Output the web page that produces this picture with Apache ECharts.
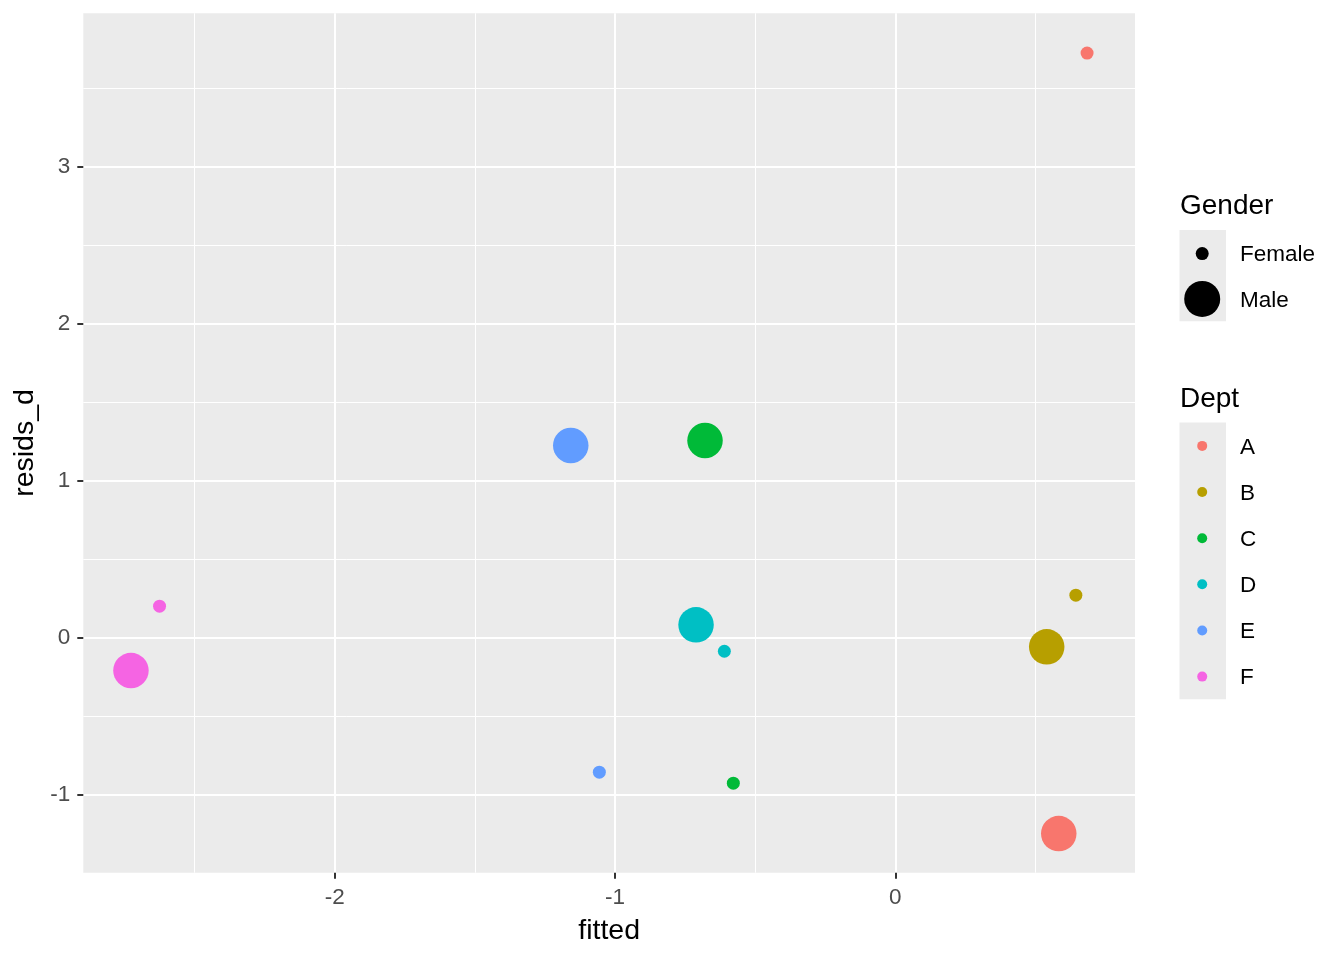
<!DOCTYPE html>
<html>
<head>
<meta charset="utf-8">
<script src="https://cdn.jsdelivr.net/npm/echarts@6/dist/echarts.min.js"></script>
<style>
html,body{margin:0;padding:0;background:#fff;}
#chart{width:1344px;height:960px;}
</style>
</head>
<body>
<div id="chart"></div>
<script>
// ---- data ----
const depts = ['A', 'B', 'C', 'D', 'E', 'F'];
const deptColors = ['#F8766D', '#B79F00', '#00BA38', '#00BFC4', '#619CFF', '#F564E3'];
const genders = ['Female', 'Male'];
const fittedFemale = [0.684, 0.644, -0.578, -0.610, -1.056, -2.625];
const residFemale = [3.722, 0.270, -0.927, -0.087, -0.857, 0.200];
const fittedMale = [0.583, 0.540, -0.679, -0.711, -1.158, -2.727];
const residMale = [-1.248, -0.059, 1.255, 0.081, 1.223, -0.210];
const xTicks = [-2, -1, 0];
const xMinor = [-2.5, -1.5, -0.5, 0.5];
const yTicks = [-1, 0, 1, 2, 3];
const yMinor = [-0.5, 0.5, 1.5, 2.5, 3.5];

// ---- styles ----
const FONT = 'Liberation Sans, Arial, sans-serif';
const sizeFemale = 13;
const sizeMale = 35.5;
const gridL = 83.3, gridT = 13.3, gridR = 1135, gridB = 872.7;

const chart = echarts.init(document.getElementById('chart'), null, {renderer: 'canvas'});

const series = depts.map((d, i) => ({
  name: d,
  type: 'scatter',
  xAxisIndex: 0,
  yAxisIndex: 0,
  symbol: 'circle',
  symbolSize: function (val) { return val[2] === 'Female' ? sizeFemale : sizeMale; },
  itemStyle: {color: deptColors[i], opacity: 1},
  emphasis: {disabled: true},
  data: [
    [fittedMale[i], residMale[i], 'Male'],
    [fittedFemale[i], residFemale[i], 'Female']
  ]
}));

// legend graphics
const graphics = [];
const legX = 1179.5, legW = 46.5, keyCx = 1202.2, textX = 1240;
graphics.push({type: 'text', left: 1180, top: 192, style: {text: 'Gender', font: '28px ' + FONT, fill: '#000'}});
graphics.push({type: 'rect', shape: {x: legX, y: 230, width: legW, height: 91.2}, style: {fill: '#EBEBEB'}});
const genderY = [253.6, 298.9];
const genderSizes = [sizeFemale, 36];
genders.forEach((g, i) => {
  graphics.push({type: 'circle', shape: {cx: keyCx, cy: genderY[i], r: genderSizes[i] / 2}, style: {fill: '#000'}});
  graphics.push({type: 'text', x: textX, y: genderY[i] + 1.5, style: {text: g, font: '22.5px ' + FONT, fill: '#000', verticalAlign: 'middle', align: 'left'}});
});
graphics.push({type: 'text', left: 1180, top: 385, style: {text: 'Dept', font: '28px ' + FONT, fill: '#000'}});
graphics.push({type: 'rect', shape: {x: legX, y: 422.6, width: legW, height: 276.7}, style: {fill: '#EBEBEB'}});
depts.forEach((d, i) => {
  const cy = 445.9 + i * 46.14;
  graphics.push({type: 'circle', shape: {cx: keyCx, cy: cy, r: 5}, style: {fill: deptColors[i]}});
  graphics.push({type: 'text', x: textX, y: cy + 1.5, style: {text: d, font: '22.5px ' + FONT, fill: '#000', verticalAlign: 'middle', align: 'left'}});
});

const option = {
  backgroundColor: '#fff',
  animation: false,
  textStyle: {fontFamily: FONT},
  grid: {
    left: gridL, top: gridT, width: gridR - gridL, height: gridB - gridT,
    show: true, backgroundColor: '#EBEBEB', borderWidth: 0, containLabel: false
  },
  xAxis: [
    {
      type: 'value', min: -2.897, max: 0.855, position: 'bottom',
      axisLine: {show: false, onZero: false},
      axisTick: {show: true, customValues: xTicks, length: 6, lineStyle: {color: '#333333', width: 2}},
      axisLabel: {show: true, customValues: xTicks, color: '#4D4D4D', fontSize: 22.5, fontFamily: FONT, margin: 14},
      splitLine: {show: true, lineStyle: {color: '#FFFFFF', width: 2}},
      name: 'fitted', nameLocation: 'middle', nameGap: 44,
      nameTextStyle: {color: '#000', fontSize: 28.5, fontFamily: FONT}
    },
    {
      type: 'value', min: -2.897, max: 0.855, position: 'top',
      axisLine: {show: false, onZero: false},
      axisTick: {show: false, customValues: xMinor},
      axisLabel: {show: false, customValues: xMinor},
      splitLine: {show: true, lineStyle: {color: '#FFFFFF', width: 1}}
    }
  ],
  yAxis: [
    {
      type: 'value', min: -1.497, max: 3.975, position: 'left',
      axisLine: {show: false, onZero: false},
      axisTick: {show: true, customValues: yTicks, length: 6, lineStyle: {color: '#333333', width: 2}},
      axisLabel: {show: true, customValues: yTicks, color: '#4D4D4D', fontSize: 22.5, fontFamily: FONT, margin: 13},
      splitLine: {show: true, lineStyle: {color: '#FFFFFF', width: 2}},
      name: 'resids_d', nameLocation: 'middle', nameGap: 36, nameRotate: 90,
      nameTextStyle: {color: '#000', fontSize: 28.5, fontFamily: FONT}
    },
    {
      type: 'value', min: -1.497, max: 3.975, position: 'right',
      axisLine: {show: false, onZero: false},
      axisTick: {show: false, customValues: yMinor},
      axisLabel: {show: false, customValues: yMinor},
      splitLine: {show: true, lineStyle: {color: '#FFFFFF', width: 1}}
    }
  ],
  series: series,
  graphic: graphics
};
chart.setOption(option);
</script>
</body>
</html>
